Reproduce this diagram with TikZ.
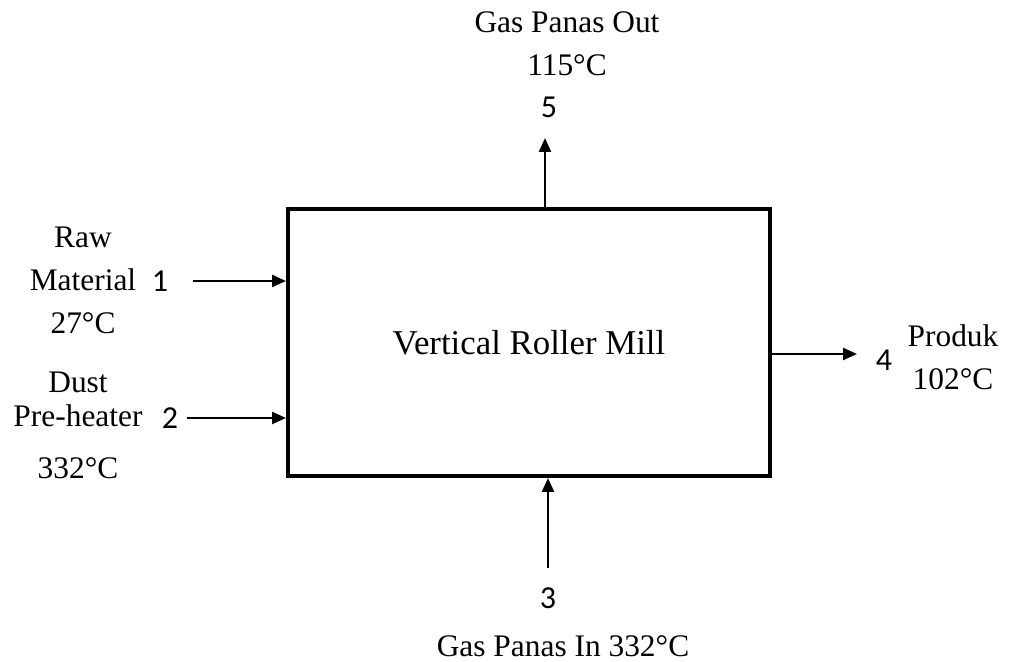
\documentclass[tikz,border=0pt]{standalone}
\usepackage{fontspec}
\setmainfont{Liberation Serif}
\newfontfamily\numfont{Carlito}
\usetikzlibrary{arrows.meta, positioning, calc}

\begin{document}
\begin{tikzpicture}[
    x=0.5pt, y=-0.5pt,
    >={Triangle[length=7pt, width=6pt]},
    lab/.style={font=\fontsize{15.7}{21.5}\selectfont, align=center, inner sep=0pt},
    num/.style={font=\numfont\fontsize{16}{18}\selectfont, inner sep=0pt},
    millbox/.style={draw, line width=2pt, minimum width=241pt, minimum height=133.5pt,
                    inner sep=0pt, font=\fontsize{17.4}{20}\selectfont},
    stream/.style={->, line width=1.2pt},
]
\useasboundingbox (0,0) rectangle (1009,662);

% the mill
\node[millbox] (vrm) at (529,342.5) {Vertical Roller Mill};

% inlet streams
\coordinate (s1) at (193,281);
\coordinate (s2) at (187,418);
\coordinate (s3) at (548,568);
\draw[stream] (s1) -- (s1 -| vrm.west);
\draw[stream] (s2) -- (s2 -| vrm.west);
\draw[stream] (s3) -- (s3 |- vrm.south);

% outlet streams
\coordinate (e4) at (857,354);
\coordinate (e5) at (545,138);
\draw[stream] (e4 -| vrm.east) -- (e4);
\draw[stream] (e5 |- vrm.north) -- (e5);

% stream numbers
\node[num] (n1) at (160,281) {1};
\node[num] (n2) at (170,418) {2};
\node[num] (n3) at (548,598) {3};
\node[num] (n4) at (884,360) {4};
\node[num] (n5) at (549,107) {5};

% stream labels
\node[lab] (raw) at (83,280) {Raw\\Material\\27°C};
\node[lab] (dust) at (78,425.5) {Dust\\[-4.5pt]Pre-heater\\[4.5pt]332°C};
\node[lab] (gasin) at (563,646.5) {Gas Panas In 332°C};
\node[lab] (prod) at (953,357) {Produk\\102°C};
\node[lab] (gasout) at (567,43.5) {Gas Panas Out\\115°C};

\end{tikzpicture}
\end{document}
